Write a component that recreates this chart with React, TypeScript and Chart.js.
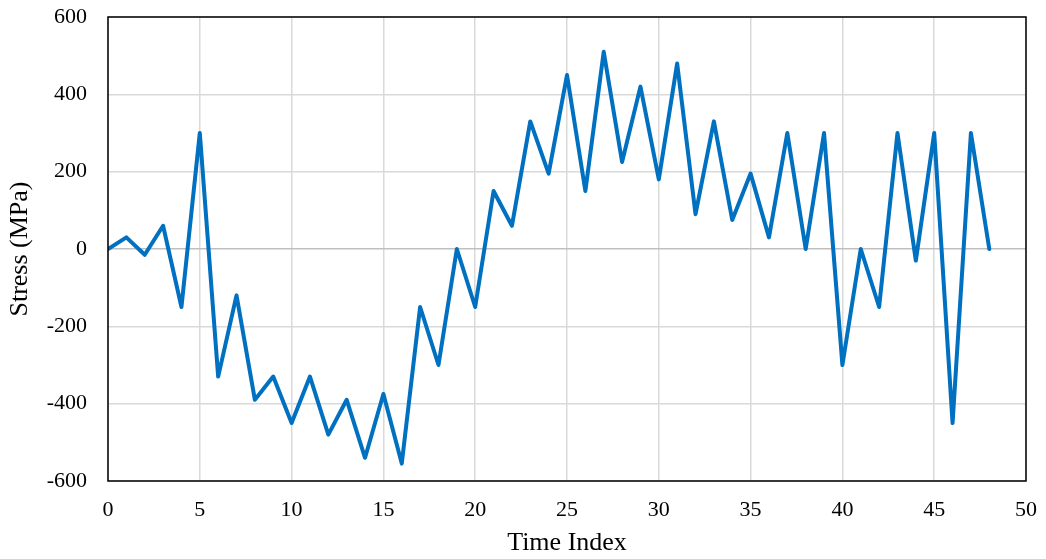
import React, { useEffect, useRef } from "react";
import { Chart, registerables } from "chart.js";

Chart.register(...registerables);

const timeIndex: number[] = [
  0, 1, 2, 3, 4, 5, 6, 7, 8, 9, 10, 11, 12, 13, 14, 15, 16, 17, 18, 19, 20, 21, 22, 23, 24,
  25, 26, 27, 28, 29, 30, 31, 32, 33, 34, 35, 36, 37, 38, 39, 40, 41, 42, 43, 44, 45, 46, 47, 48,
];
const stressMPa: number[] = [
  0, 30, -15, 60, -150, 300, -330, -120, -390, -330, -450, -330, -480, -390, -540, -375, -555,
  -150, -300, 0, -150, 150, 60, 330, 195, 450, 150, 510, 225, 420, 180, 480, 90, 330, 75, 195,
  30, 300, 0, 300, -300, 0, -150, 300, -30, 300, -450, 300, 0,
];
const xTitle = "Time Index";
const yTitle = "Stress (MPa)";

const FONT = "'Liberation Serif', 'Times New Roman', serif";

const borderPlugin = {
  id: "plotBorder",
  afterDraw(chart: any) {
    const { ctx, chartArea } = chart;
    ctx.save();
    ctx.strokeStyle = "#000000";
    ctx.lineWidth = 1.5;
    ctx.strokeRect(chartArea.left, chartArea.top, chartArea.right - chartArea.left, chartArea.bottom - chartArea.top);
    ctx.restore();
  },
};

export default function App() {
  const ref = useRef<HTMLCanvasElement | null>(null);
  useEffect(() => {
    document.body.style.margin = "0";
    if (!ref.current) return;
    const points = timeIndex.map((x, i) => ({ x, y: stressMPa[i] }));
    const chart = new Chart(ref.current, {
      type: "line",
      data: {
        datasets: [
          {
            data: points,
            borderColor: "#0070C0",
            borderWidth: 4,
            pointRadius: 0,
            tension: 0,
            borderJoinStyle: "round",
            borderCapStyle: "round",
            fill: false,
          },
        ],
      },
      options: {
        animation: false,
        responsive: false,
        maintainAspectRatio: false,
        layout: { padding: { top: 17, right: 20, left: 0, bottom: 0 } },
        plugins: { legend: { display: false }, tooltip: { enabled: false } },
        scales: {
          x: {
            type: "linear",
            min: 0,
            max: 50,
            ticks: { stepSize: 5, color: "#000", font: { family: FONT, size: 22 }, padding: 0, maxRotation: 0 },
            grid: { color: "#d9d9d9", lineWidth: 1.5, drawTicks: true, tickLength: 16, tickColor: "rgba(0,0,0,0)" },
            border: { display: false },
            title: { display: true, text: xTitle, color: "#000", font: { family: FONT, size: 26 }, padding: { top: 0, bottom: 0 } },
            afterFit(scale: any) {
              scale.height = 78;
            },
          },
          y: {
            type: "linear",
            min: -600,
            max: 600,
            ticks: { stepSize: 200, color: "#000", font: { family: FONT, size: 22 }, padding: 0 },
            grid: {
              color: (c: any) => (c.tick && c.tick.value === 0 ? "#bfbfbf" : "#d9d9d9"),
              lineWidth: 1.5,
              drawTicks: true,
              tickLength: 21,
              tickColor: "rgba(0,0,0,0)",
            },
            border: { display: false },
            title: { display: true, text: yTitle, color: "#000", font: { family: FONT, size: 26 }, padding: { top: 5, bottom: 0 } },
            afterFit(scale: any) {
              scale.width = 108;
            },
          },
        },
      },
      plugins: [borderPlugin],
    } as any);
    return () => chart.destroy();
  }, []);
  return (
    <div style={{ width: 1046, height: 559, background: "#fff" }}>
      <canvas ref={ref} width={1046} height={559} style={{ display: "block" }} />
    </div>
  );
}
